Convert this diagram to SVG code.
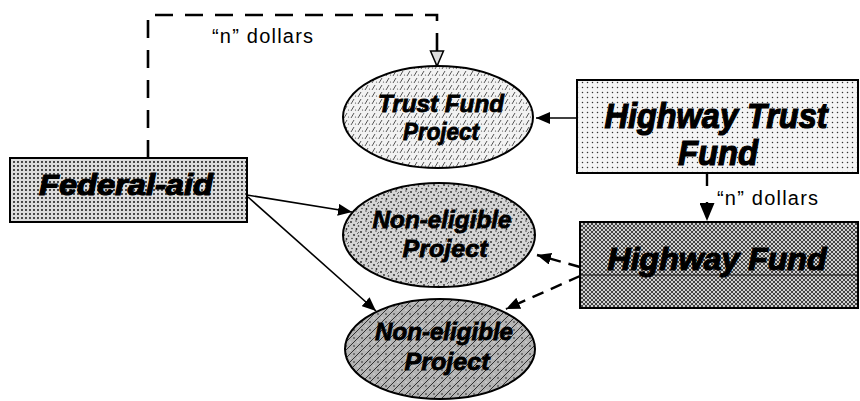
<svg xmlns="http://www.w3.org/2000/svg" width="860" height="401" viewBox="0 0 860 401">
<style>
.box{stroke:#000;stroke-width:2}
.ell{stroke:#000;stroke-width:2}
.big{font-family:"Liberation Sans",Arial,sans-serif;font-weight:bold;font-style:italic;fill:#000;stroke:#000;stroke-width:1.2;text-anchor:middle}
.mid{font-family:"Liberation Sans",Arial,sans-serif;font-weight:bold;font-style:italic;fill:#000;stroke:#000;stroke-width:0.8;text-anchor:middle}
.lbl{font-family:"Liberation Sans",Arial,sans-serif;font-size:20px;fill:#000}
.solid{fill:none;stroke:#000;stroke-width:1.6}
.dash{fill:none;stroke:#000;stroke-width:2.6;stroke-dasharray:18 12}
.dash2{fill:none;stroke:#000;stroke-width:2.4;stroke-dasharray:12 8}
</style>
<defs>
<pattern id="pFA" width="4" height="4" patternUnits="userSpaceOnUse">
<rect width="4" height="4" fill="#dcdcdc"/>
<circle cx="2" cy="2" r="1.05" fill="#222"/>
</pattern>
<pattern id="pHTF" width="5" height="5" patternUnits="userSpaceOnUse">
<rect width="5" height="5" fill="#f4f4f4"/>
<circle cx="2.5" cy="2.5" r="0.75" fill="#333"/>
</pattern>
<pattern id="pHF" width="4" height="4" patternUnits="userSpaceOnUse">
<rect width="4" height="4" fill="#d0d0d0"/>
<path d="M0,0 L4,4 M4,0 L0,4" stroke="#333" stroke-width="0.9"/>
</pattern>
<pattern id="pTF" width="7" height="7" patternUnits="userSpaceOnUse">
<rect width="7" height="7" fill="#f2f2f2"/>
<path d="M1,6 L4,1" stroke="#444" stroke-width="0.9"/>
<circle cx="5.5" cy="5" r="0.6" fill="#444"/>
</pattern>
<pattern id="pNE1" width="10" height="10" patternUnits="userSpaceOnUse">
<rect width="10" height="10" fill="#d4d4d4"/>
<circle cx="1" cy="2" r="0.9" fill="#222"/>
<circle cx="6" cy="1" r="0.7" fill="#222"/>
<circle cx="4" cy="5" r="0.9" fill="#222"/>
<circle cx="8.5" cy="6" r="0.8" fill="#222"/>
<circle cx="2" cy="8.5" r="0.7" fill="#222"/>
<circle cx="6.5" cy="9" r="0.9" fill="#222"/>
<path d="M7,4 L9,2" stroke="#333" stroke-width="0.7"/>
</pattern>
<pattern id="pNE2" width="8" height="8" patternUnits="userSpaceOnUse">
<rect width="8" height="8" fill="#b4b4b4"/>
<path d="M0,8 L8,0 M-2,2 L2,-2 M6,10 L10,6" stroke="#222" stroke-width="0.9"/>
<circle cx="2" cy="2" r="0.8" fill="#222"/>
<circle cx="6" cy="6" r="0.6" fill="#fff"/>
</pattern>
<marker id="ah" viewBox="0 0 14 12" refX="14" refY="6" markerWidth="14" markerHeight="12" markerUnits="userSpaceOnUse" orient="auto">
<path d="M0,0 L14,6 L0,12 z" fill="#000"/>
</marker>
<marker id="ahBig" viewBox="0 0 18 15" refX="18" refY="7.5" markerWidth="18" markerHeight="15" markerUnits="userSpaceOnUse" orient="auto">
<path d="M0,0 L18,7.5 L0,15 z" fill="#000"/>
</marker>
<marker id="ahOpen" viewBox="-1 -1 17 15" refX="15" refY="6.5" markerWidth="17" markerHeight="15" markerUnits="userSpaceOnUse" orient="auto" overflow="visible">
<path d="M0,0 L15,6.5 L0,13 z" fill="#ddd" stroke="#000" stroke-width="1.5"/>
</marker>
</defs>
<rect width="860" height="401" fill="#fff"/>

<g id="connectors">
<path class="dash" d="M148,158 V15 H437 V66" marker-end="url(#ahOpen)"/>
<path class="solid" d="M577,118 H536" marker-end="url(#ah)"/>
<path class="dash2" style="stroke-dasharray:13 16" d="M707,173 V221" marker-end="url(#ahBig)"/>
<path class="solid" d="M247,195 L352,212" marker-end="url(#ah)"/>
<path class="solid" d="M248,197 L376,311" marker-end="url(#ah)"/>
<path class="dash2" d="M580,267 L537,255" marker-end="url(#ah)"/>
<path class="dash2" d="M580,276 L506,309" marker-end="url(#ah)"/>
<text class="lbl" x="212" y="43" textLength="101">“n” dollars</text>
<text class="lbl" x="717" y="205" textLength="101">“n” dollars</text>
</g>

<g id="federal-aid">
<rect class="box" x="10" y="158" width="237" height="64" fill="url(#pFA)"/>
<text class="big" x="126" y="195" font-size="30" textLength="174" lengthAdjust="spacingAndGlyphs">Federal-aid</text>
</g>

<g id="highway-trust-fund">
<rect class="box" x="577" y="80" width="281" height="93" fill="url(#pHTF)"/>
<text class="big" x="716" y="128" font-size="35" textLength="223" lengthAdjust="spacingAndGlyphs">Highway Trust</text>
<text class="big" x="718" y="165" font-size="35" textLength="80" lengthAdjust="spacingAndGlyphs">Fund</text>
</g>

<g id="highway-fund">
<rect class="box" x="580" y="222" width="278" height="86" fill="url(#pHF)"/>
<line x1="580" y1="275" x2="858" y2="275" stroke="#000" stroke-width="0.8"/>
<text class="big" x="717" y="270" font-size="32" textLength="219" lengthAdjust="spacingAndGlyphs">Highway Fund</text>
</g>

<g id="trust-fund-project">
<ellipse class="ell" cx="438" cy="117" rx="95" ry="51" fill="url(#pTF)"/>
<text class="mid" x="441" y="112" font-size="23" textLength="126" lengthAdjust="spacingAndGlyphs">Trust Fund</text>
<text class="mid" x="441" y="140" font-size="23" textLength="76" lengthAdjust="spacingAndGlyphs">Project</text>
</g>

<g id="non-eligible-project-1">
<ellipse class="ell" cx="439" cy="235" rx="96" ry="52" fill="url(#pNE1)"/>
<text class="mid" x="442" y="228" font-size="24" textLength="139" lengthAdjust="spacingAndGlyphs">Non-eligible</text>
<text class="mid" x="445" y="257" font-size="24" textLength="85" lengthAdjust="spacingAndGlyphs">Project</text>
</g>

<g id="non-eligible-project-2">
<ellipse class="ell" cx="440" cy="349" rx="95" ry="50" fill="url(#pNE2)"/>
<text class="mid" x="444" y="340" font-size="24" textLength="138" lengthAdjust="spacingAndGlyphs">Non-eligible</text>
<text class="mid" x="447" y="370" font-size="24" textLength="85" lengthAdjust="spacingAndGlyphs">Project</text>
</g>
</svg>
